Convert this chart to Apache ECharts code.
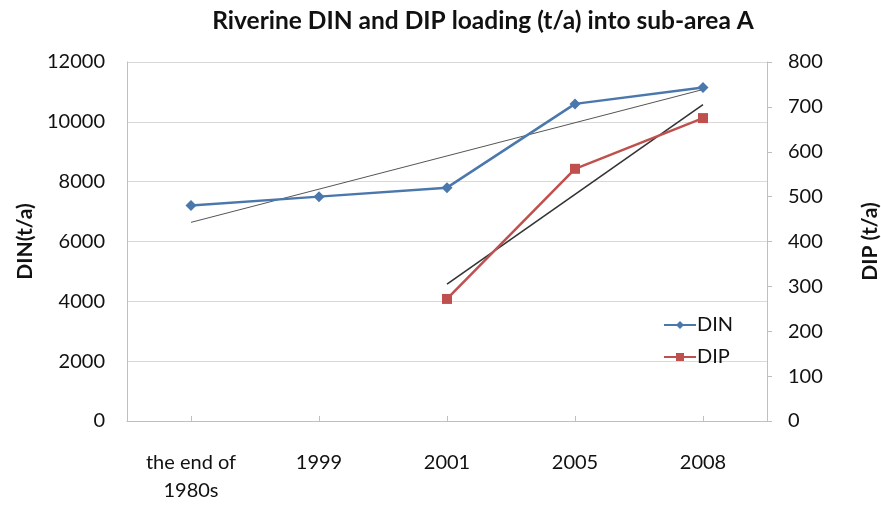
<!DOCTYPE html>
<html>
<head>
<meta charset="utf-8">
<script src="https://cdn.jsdelivr.net/npm/echarts@6/dist/echarts.min.js"></script>
<style>html,body{margin:0;padding:0;background:#fff}#c{width:881px;height:508px}</style>
</head>
<body>
<div id="c"></div>
<script>
const categories = ['the end of\n1980s', '1999', '2001', '2005', '2008'];
const dinValues = [7200, 7500, 7800, 10600, 11150];
const dipValues = [null, null, 272, 562, 675];
const dinTrend = [6640, null, null, null, 11080];
const dipTrend = [null, null, 305, null, 705];
const dinTicks = [0, 2000, 4000, 6000, 8000, 10000, 12000];
const dipTicks = [0, 100, 200, 300, 400, 500, 600, 700, 800];

const FONT = 'Lato';
const chart = echarts.init(document.getElementById('c'), null, {renderer: 'canvas'});
chart.setOption({
  animation: false,
  backgroundColor: '#ffffff',
  textStyle: {fontFamily: FONT},
  title: {
    text: 'Riverine DIN and DIP loading (t/a) into sub-area A',
    left: 478, top: 4, textAlign: 'center',
    textStyle: {fontFamily: FONT, fontSize: 24.5, fontWeight: 'bold', color: '#111'}
  },
  grid: {left: 127, right: 114, top: 62, bottom: 87, containLabel: false, outerBoundsMode: 'none'},
  legend: {
    orient: 'vertical', left: 658, top: 310,
    itemWidth: 32, itemHeight: 10, itemGap: 12,
    data: ['DIN', 'DIP'],
    textStyle: {fontFamily: FONT, fontSize: 20, color: '#111', padding: [0, 0, 0, -4]}
  },
  xAxis: {
    type: 'category', data: categories, boundaryGap: true,
    axisLine: {lineStyle: {color: '#bfbfbf', width: 1}},
    axisTick: {show: true, alignWithLabel: true, inside: true, length: 5, lineStyle: {color: '#bfbfbf'}},
    axisLabel: {fontFamily: FONT, fontSize: 20, color: '#111', margin: 28, lineHeight: 28, interval: 0}
  },
  yAxis: [{
    type: 'value', min: dinTicks[0], max: dinTicks[dinTicks.length - 1], interval: 2000,
    name: 'DIN(t/a)', nameLocation: 'middle', nameRotate: 90, nameGap: 90,
    nameTextStyle: {fontFamily: FONT, fontSize: 21, fontWeight: 'bold', color: '#111'},
    axisLine: {show: true, lineStyle: {color: '#bfbfbf'}},
    axisTick: {show: false},
    axisLabel: {fontFamily: FONT, fontSize: 20, color: '#111', margin: 22, formatter: v => String(v)},
    splitLine: {show: true, lineStyle: {color: '#d9d9d9', width: 1}}
  }, {
    type: 'value', min: dipTicks[0], max: dipTicks[dipTicks.length - 1], interval: 100,
    name: 'DIP (t/a)', nameLocation: 'middle', nameRotate: 90, nameGap: 93,
    nameTextStyle: {fontFamily: FONT, fontSize: 21, fontWeight: 'bold', color: '#111'},
    axisLine: {show: true, lineStyle: {color: '#bfbfbf'}},
    axisTick: {show: true, length: 5, lineStyle: {color: '#bfbfbf'}},
    axisLabel: {fontFamily: FONT, fontSize: 20, color: '#111', margin: 21, formatter: v => String(v)},
    splitLine: {show: false}
  }],
  series: [{
    name: 'DIN', type: 'line', yAxisIndex: 0, data: dinValues,
    symbol: 'diamond', symbolSize: 11, z: 5,
    lineStyle: {color: '#4a78ad', width: 2.5},
    itemStyle: {color: '#4a78ad'}
  }, {
    name: 'DIP', type: 'line', yAxisIndex: 1, data: dipValues,
    symbol: 'rect', symbolSize: 10, z: 5,
    lineStyle: {color: '#c0504d', width: 2.5},
    itemStyle: {color: '#c0504d'}
  }, {
    name: 'DIN trend', type: 'line', yAxisIndex: 0, data: dinTrend, connectNulls: true,
    symbol: 'none', z: 4, lineStyle: {color: '#555', width: 1}, silent: true
  }, {
    name: 'DIP trend', type: 'line', yAxisIndex: 1, data: dipTrend, connectNulls: true,
    symbol: 'none', z: 4, lineStyle: {color: '#333', width: 1.6}, silent: true
  }]
});
</script>
</body>
</html>
